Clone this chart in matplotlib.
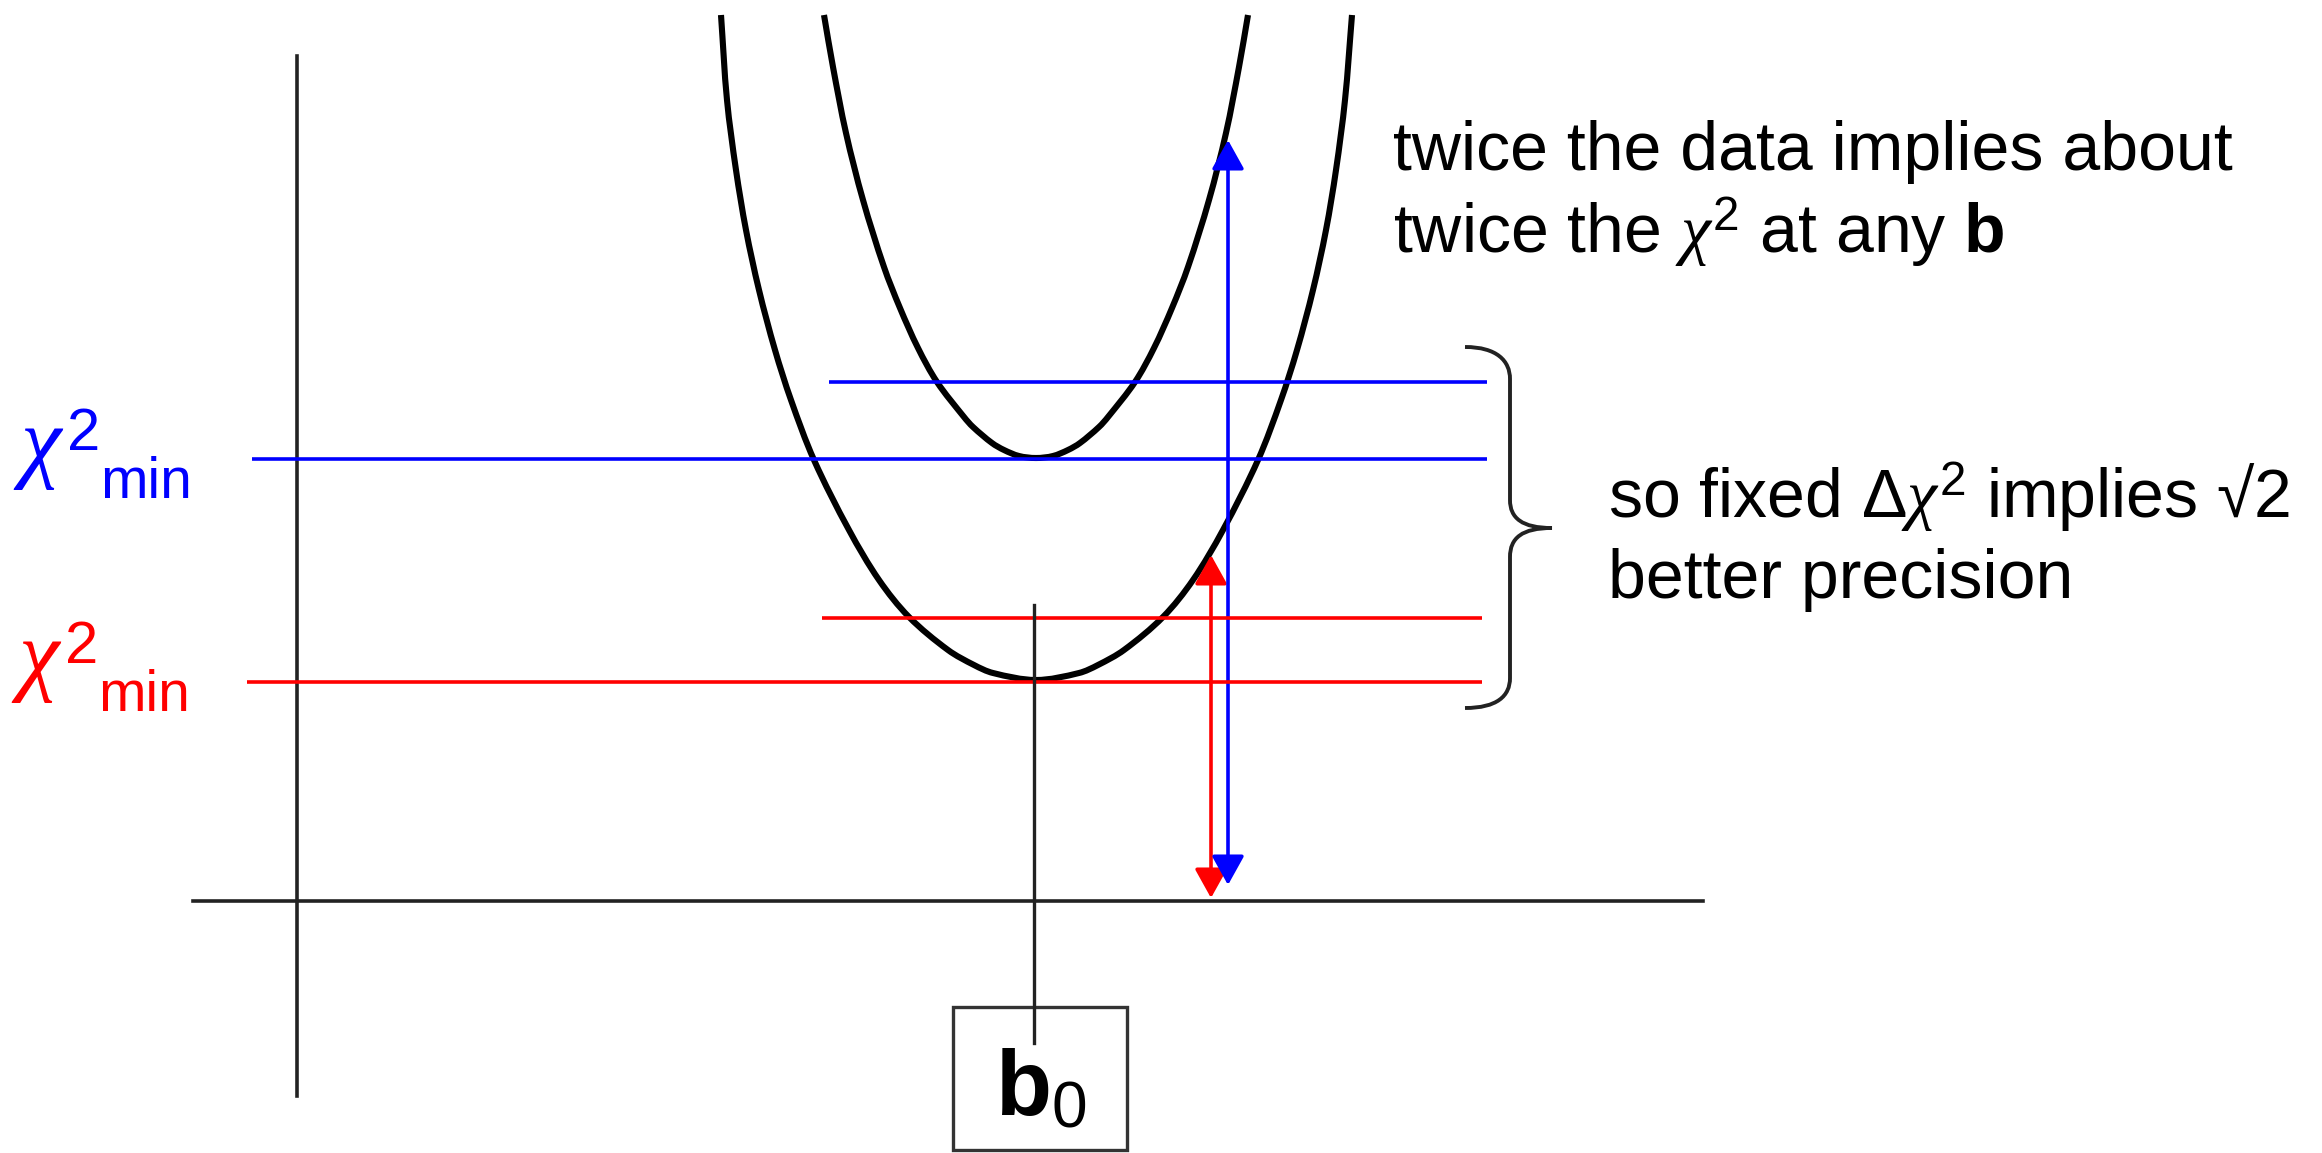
import numpy as np
import matplotlib
matplotlib.use('Agg')
import matplotlib.pyplot as plt
from matplotlib.path import Path
from matplotlib.patches import PathPatch, FancyArrowPatch, Rectangle

plt.rcParams['font.family'] = ['Liberation Sans', 'DejaVu Sans']
plt.rcParams['mathtext.fontset'] = 'custom'
plt.rcParams['mathtext.rm'] = 'Liberation Sans'
plt.rcParams['mathtext.it'] = 'Liberation Serif:italic'
plt.rcParams['mathtext.bf'] = 'Liberation Sans:bold'

# chi2 curve for the original data set
b_lower = [424, 430, 439, 449, 462, 478, 494, 517, 552, 582, 612, 651, 677, 696, 739,
           782, 801, 827, 866, 896, 926, 961, 984, 1000, 1016, 1029, 1039, 1048, 1055]
chi2_lower = [886, 801, 731, 671, 611, 551, 501, 441, 371, 321, 284, 251, 236, 228, 221,
              228, 236, 251, 284, 321, 371, 441, 501, 551, 611, 671, 731, 801, 886]

# chi2 curve for twice the data
b_upper = [527, 536, 549, 566, 587, 603, 621, 640, 667, 676, 695, 707, 722, 739,
           756, 771, 783, 802, 811, 838, 857, 875, 891, 912, 929, 942, 951]
chi2_upper = [886, 834, 768, 701, 634, 593, 553, 519, 484, 474, 458, 451, 445, 443,
              445, 451, 458, 474, 484, 519, 553, 593, 634, 701, 768, 834, 886]

# levels: chi2 minimum and minimum + fixed delta chi2
chi2_min = {'red': 219, 'blue': 442}
chi2_delta = {'red': 283, 'blue': 519}

# best fit b and chi2 value reached at the arrows
b0 = 737
arrow_b = {'red': 914, 'blue': 931}
arrow_chi2 = {'red': 346, 'blue': 761}

RED = '#ff0000'
BLUE = '#0000ff'
DARK = '#222222'


# smooth path through the read points (chord length hermite drawn as bezier)
def smooth_path(xs, ys):
    pts = np.column_stack([xs, ys]).astype(float)
    n = len(pts)
    t = np.concatenate([[0], np.cumsum(np.hypot(*np.diff(pts, axis=0).T))])
    tang = np.zeros_like(pts)
    for i in range(n):
        lo, hi = max(i - 1, 0), min(i + 1, n - 1)
        tang[i] = (pts[hi] - pts[lo]) / (t[hi] - t[lo])
    verts = [pts[0]]
    codes = [Path.MOVETO]
    for i in range(n - 1):
        dt = t[i + 1] - t[i]
        verts += [pts[i] + tang[i] * dt / 3, pts[i + 1] - tang[i + 1] * dt / 3, pts[i + 1]]
        codes += [Path.CURVE4] * 3
    return Path(verts, codes)


def draw_brace(ax):
    verts = [(1168, 554), (1200, 554), (1213, 540), (1213, 522),
             (1213, 401),
             (1213, 383), (1225, 373), (1255, 373),
             (1225, 373), (1213, 363), (1213, 344),
             (1213, 223),
             (1213, 205), (1200, 193), (1168, 193)]
    codes = [Path.MOVETO, Path.CURVE4, Path.CURVE4, Path.CURVE4,
             Path.LINETO,
             Path.CURVE4, Path.CURVE4, Path.CURVE4,
             Path.CURVE4, Path.CURVE4, Path.CURVE4,
             Path.LINETO,
             Path.CURVE4, Path.CURVE4, Path.CURVE4]
    ax.add_patch(PathPatch(Path(verts, codes), fill=False, lw=2.8, color=DARK))


def draw_label(ax, x, y, color):
    # chi, superscript 2 and "min" placed one after another
    ax.text(x, y, 'χ', fontsize=66, family=['Liberation Serif'], style='italic',
            color=color, va='baseline', ha='left')
    ax.text(x + 47, y + 21, '2', fontsize=43, color=color, va='baseline', ha='left')
    ax.text(x + 80, y - 27, 'min', fontsize=41, color=color, va='baseline', ha='left')


def draw_chart():
    fig = plt.figure(figsize=(23.22, 11.53), dpi=100)
    ax = fig.add_axes([0, 0, 1, 1])
    ax.set_xlim(-297, 2025)
    ax.set_ylim(-252, 901)
    ax.axis('off')

    # axes
    ax.plot([0, 0], [845, -195], color=DARK, lw=2.6)
    ax.plot([-104, 1406], [0, 0], color=DARK, lw=2.6)

    # horizontal levels
    ax.hlines(chi2_min['blue'], -45, 1190, color=BLUE, lw=2.6)
    ax.hlines(chi2_delta['blue'], 532, 1190, color=BLUE, lw=2.6)
    ax.hlines(chi2_min['red'], -50, 1185, color=RED, lw=2.6)
    ax.hlines(chi2_delta['red'], 525, 1185, color=RED, lw=2.6)

    # curves
    for bs, cs in [(b_lower, chi2_lower), (b_upper, chi2_upper)]:
        ax.add_patch(PathPatch(smooth_path(bs, cs), fill=False, lw=4.4, ec='black',
                               capstyle='butt'))

    # b0 marker and box
    ax.plot([b0, b0], [296, -142], color=DARK, lw=2.4)
    ax.add_patch(Rectangle((656, -249), 174, 143, fill=False, lw=2.4, ec='#333333'))
    ax.text(698, -214, r'$\mathbf{b}_{\mathrm{0}}$', fontsize=66, va='baseline', ha='left')

    # arrows
    for key, col in [('red', RED), ('blue', BLUE)]:
        arr = FancyArrowPatch((arrow_b[key], 3 if key == 'red' else 16),
                              (arrow_b[key], arrow_chi2[key]),
                              arrowstyle='<|-|>,head_length=18,head_width=10',
                              mutation_scale=1, color=col, lw=2.6,
                              shrinkA=0, shrinkB=0)
        ax.add_patch(arr)

    draw_brace(ax)

    # labels on the left
    draw_label(ax, -277, 430, BLUE)
    draw_label(ax, -279, 217, RED)

    # annotations
    ax.text(1096, 731, 'twice the data implies about', fontsize=49, va='baseline')
    ax.text(1096, 648, r'twice the $\chi^{\mathrm{2}}$ at any $\mathbf{b}$', fontsize=49,
            va='baseline')
    ax.text(1311, 383, r'so fixed $\mathrm{\Delta}\chi^{\mathrm{2}}$ implies √2', fontsize=49,
            va='baseline')
    ax.text(1311, 303, 'better precision', fontsize=49, va='baseline')

    fig.savefig('out.png', dpi=100)


if __name__ == '__main__':
    draw_chart()
